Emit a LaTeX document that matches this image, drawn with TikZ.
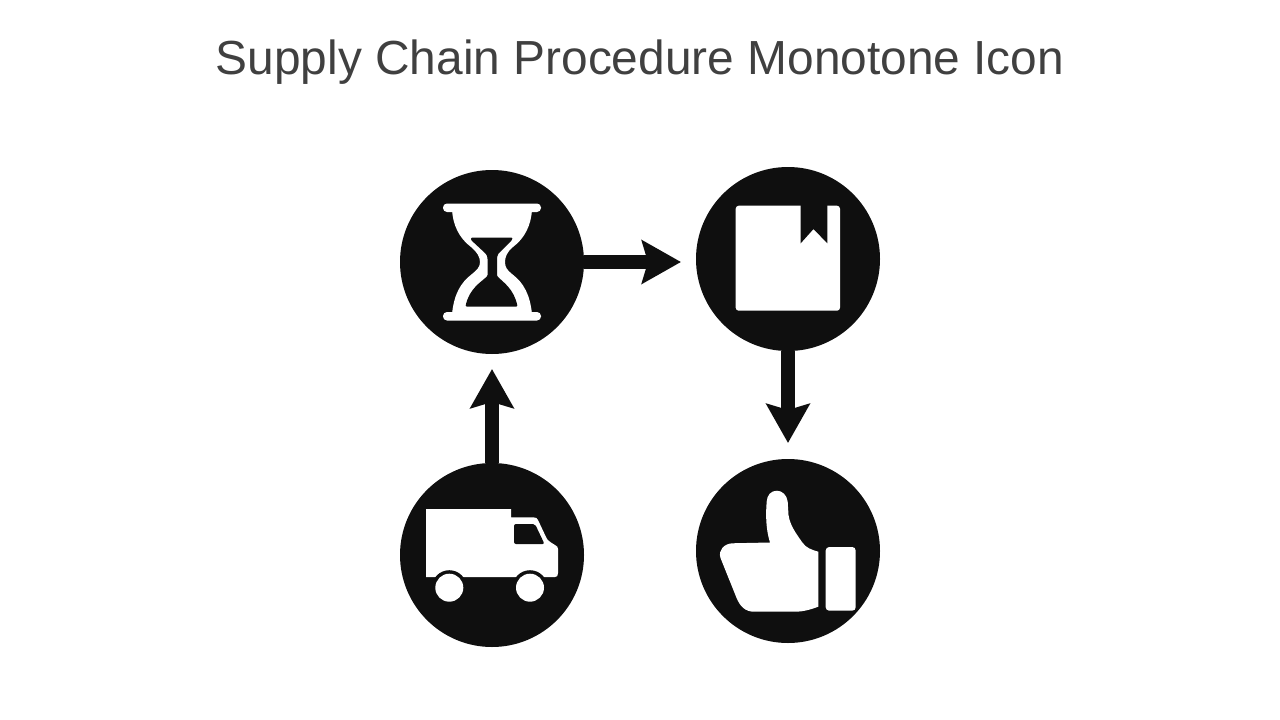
\documentclass[tikz,border=0pt]{standalone}
\usepackage{fontspec}
\setmainfont{Liberation Sans}
\usetikzlibrary{arrows.meta}
\definecolor{ink}{HTML}{0F0F0F}
\definecolor{titlegrey}{HTML}{404040}
\tikzset{
  disc/.style={circle,fill=ink,draw=none,minimum size=184pt,inner sep=0pt,outer sep=0pt},
  flow/.style={draw=ink,line width=14.5pt,-{Stealth[length=39pt,width=43pt,inset=6pt,fill=ink]}},
  glyph/.style={fill=white,draw=none},
  cut/.style={fill=ink,draw=none}
}
\begin{document}
\begin{tikzpicture}[x=1pt,y=-1pt]
\useasboundingbox (0,0) rectangle (1280,720);
\node[text=titlegrey,font=\fontsize{47.85}{56}\selectfont,anchor=base] (title) at (640,74) {Supply Chain Procedure Monotone Icon};
\node[disc] (hour) at (492,262) {};
\node[disc] (book) at (788,259) {};
\node[disc] (truck) at (492,555) {};
\node[disc] (thumb) at (788,551) {};
% connectors
\draw[flow,shorten >=107pt] (hour) -- (hour -| book);
\draw[flow,shorten >=108pt] (book) -- (book |- thumb);
\draw[flow,shorten >=15pt] (truck) -- (hour);
% hourglass
\fill[glyph,rounded corners=4pt] (443,203.5) rectangle (541,212);
\fill[glyph,rounded corners=4pt] (443,312) rectangle (541,320.5);
\fill[glyph] (452,210) .. controls (453,225) and (459,238) .. (471,247)
  .. controls (477,252) and (480,257) .. (480,262)
  .. controls (480,267) and (477,270) .. (472,274)
  .. controls (460,283) and (454,295) .. (452,314)
  -- (532,314)
  .. controls (530,295) and (524,283) .. (512,274)
  .. controls (507,270) and (505,267) .. (505,262)
  .. controls (505,257) and (507,252) .. (513,247)
  .. controls (525,238) and (531,225) .. (532,210) -- cycle;
\fill[cut,rounded corners=1pt] (471,237.5) -- (512.5,237.5) -- (512,240)
  -- (499,253) .. controls (497.5,255) and (497,257) .. (497,260)
  -- (497,276)
  .. controls (503,282) and (514,289) .. (517.5,306.5)
  -- (465.5,306.5)
  .. controls (469,289) and (481,282) .. (487.5,276)
  -- (487.5,260)
  .. controls (487.5,257) and (487,255) .. (485,253)
  -- (471,240) -- cycle;
% book
\fill[glyph,rounded corners=3pt] (735.7,205.7) rectangle (840,310.7);
\fill[cut] (800.7,205) -- (827.3,205) -- (827.3,243.3) -- (813.5,229) -- (800.7,243.3) -- cycle;
% truck
\fill[glyph] (426,509) -- (511,509) -- (511,517.3) -- (533,517.3)
  .. controls (536,517.3) and (537,518) .. (538,520)
  -- (546,537) .. controls (547,539) and (548,541) .. (551,542.5)
  -- (555,545) .. controls (557,546) and (558,547) .. (558,549)
  -- (558,573) .. controls (558,576) and (557,577) .. (555,577)
  -- (426,577) -- cycle;
\fill[cut] (449.3,587.7) circle[radius=17.5];
\fill[cut] (530,587.7) circle[radius=17.5];
\fill[glyph] (449.3,587.7) circle[radius=14];
\fill[glyph] (530,587.7) circle[radius=14];
\fill[cut,rounded corners=2pt] (514,524) -- (535,524) -- (544.5,544) -- (514,544) -- cycle;
% thumb
\fill[glyph,rounded corners=3.5pt] (825.7,547) rectangle (855.7,610.7);
\fill[glyph] (770,542.5) -- (732,543.3)
  .. controls (724,544) and (718,550) .. (720.5,558)
  -- (736.7,598.3)
  .. controls (740,606) and (745,611.7) .. (754,611.7)
  -- (795,611.7)
  .. controls (804,611.7) and (812,609) .. (818.3,606.7)
  -- (818.3,551.7)
  .. controls (811,549.5) and (806,548) .. (802,542)
  .. controls (795,532) and (790,525) .. (788.5,515)
  -- (787.7,501.7)
  .. controls (787,495) and (782,490.7) .. (777,490.7)
  .. controls (771,490.7) and (767,495) .. (766.7,501.7)
  .. controls (765.5,515) and (766,530) .. (770,542.5) -- cycle;
\end{tikzpicture}
\end{document}
